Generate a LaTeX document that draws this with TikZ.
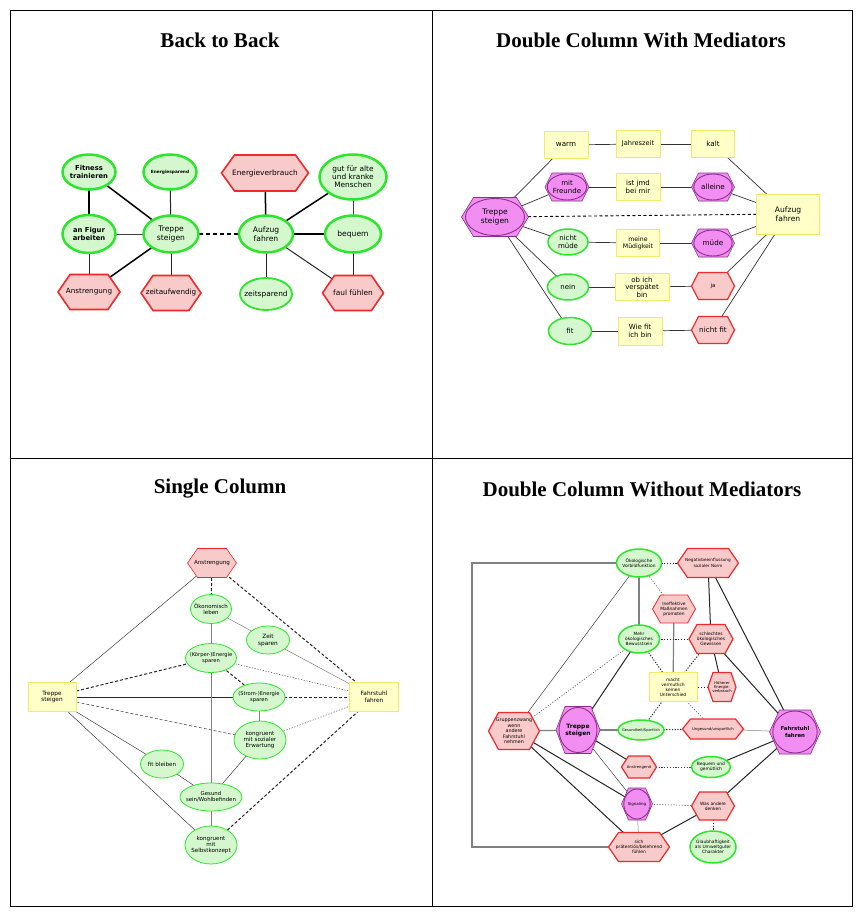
\documentclass[tikz,border=0pt]{standalone}
\usepackage{fontspec}
\setmainfont{DejaVu Sans}
\newfontfamily\titlefont{Liberation Serif}
\usetikzlibrary{backgrounds}
\definecolor{gB}{HTML}{2EE52E}
\definecolor{gF}{HTML}{D4F7CE}
\definecolor{rB}{HTML}{EE2A2A}
\definecolor{rF}{HTML}{F9CACA}
\definecolor{mF}{HTML}{F28EF2}
\definecolor{mB}{HTML}{8E2E8E}
\definecolor{yB}{HTML}{F2EA6A}
\definecolor{yF}{HTML}{FFFFC8}
\newcommand\fsz[2]{\fontsize{#1}{#2}\selectfont}
\tikzset{
  txt/.style={inner sep=0pt, align=center, text=black},
  sz/.style 2 args={minimum width=#1pt, minimum height=#2pt},
  gsh/.style={draw=gB, fill=gF, line width=1.5pt},
  rsh/.style={draw=rB, fill=rF, line width=1.2pt, line join=miter},
  msh/.style={draw=mB, fill=mF, line width=0.6pt, line join=miter},
  mel/.style={draw=mB, line width=0.9pt},
  ynode/.style={txt, rectangle, draw=yB, fill=yF, line width=1pt},
  ttl/.style={font=\titlefont\fsz{21}{24}\bfseries, inner sep=0pt},
  ethk/.style={line width=1.5pt, black},
  emed/.style={line width=1pt, black!85},
  ethn/.style={line width=0.5pt, black!75},
  etr/.style={line width=0.7pt, black!80},
  egry/.style={line width=1.2pt, black!50},
  edsh/.style={dash pattern=on 3pt off 2pt},
  edot/.style={dash pattern=on 1.2pt off 1.6pt},
}
% ellipse: name, x, y, w, h, shape style, font, text
\newcommand\elln[8]{%
  \path[#6] (#2,#3) ellipse [x radius={#4*0.5pt}, y radius={#5*0.5pt}];
  \node[txt, font=#7] (#1) at (#2,#3) {#8};}
% hexagon: name, x, y, w, h, point depth, shape style, font, text
\newcommand\hexn[9]{%
  \path[#7] (#2-#4/2,#3) -- (#2-#4/2+#6,#3-#5/2) -- (#2+#4/2-#6,#3-#5/2)
    -- (#2+#4/2,#3) -- (#2+#4/2-#6,#3+#5/2) -- (#2-#4/2+#6,#3+#5/2) -- cycle;
  \node[txt, font=#8] (#1) at (#2,#3) {#9};}
% magenta hexagon with ellipse: name, x, y, w, h, point depth, font, text
\newcommand\magn[8]{%
  \path[msh] (#2-#4/2,#3) -- (#2-#4/2+#6,#3-#5/2) -- (#2+#4/2-#6,#3-#5/2)
    -- (#2+#4/2,#3) -- (#2+#4/2-#6,#3+#5/2) -- (#2-#4/2+#6,#3+#5/2) -- cycle;
  \path[mel] (#2,#3) ellipse [x radius={(#4/2-#6/3)*1pt}, y radius={(#5/2-1)*1pt}];
  \node[txt, font=#7] (#1) at (#2,#3) {#8};}
\newcommand\ed[3]{\draw[#1] (#2.center) -- (#3.center);}

\begin{document}
\begin{tikzpicture}[x=1pt,y=-1pt]
\useasboundingbox (0,0) rectangle (863,919);
\begin{scope}[on background layer]
\fill[white] (0,0) rectangle (863,919);
\end{scope}
% table frame
\draw[line width=0.8pt] (10,10) rectangle (852,906);
\draw[line width=0.8pt] (432,10) -- (432,906);
\draw[line width=0.8pt] (10,458) -- (852,458);
% titles
\node[ttl] (t1) at (220,40) {Back to Back};
\node[ttl] (t2) at (641,40) {Double Column With Mediators};
\node[ttl] (t3) at (220,489) {Single Column};
\node[ttl] (t4) at (642,489) {Double Column Without Mediators};

% ---------------- Back to Back ----------------
\elln{fitn}{89}{172}{53}{35}{gsh, line width=2.5pt}{\fsz{6.8}{8}\bfseries}{Fitness\\trainieren}
\elln{enrg}{170}{172}{53}{35}{gsh, line width=2.5pt}{\fsz{4.3}{5}\bfseries}{Energiesparend}
\hexn{ever}{265}{173}{87}{36}{13}{rsh, line width=1.6pt}{\fsz{7.4}{8.6}}{Energieverbrauch}
\elln{gut}{353}{177}{67}{45}{gsh, line width=2.5pt}{\fsz{7.4}{8}}{gut für alte\\und kranke\\Menschen}
\elln{figur}{89}{234}{53}{38}{gsh, line width=2.5pt}{\fsz{6.8}{8}\bfseries}{an Figur\\arbeiten}
\elln{tr1}{171}{234}{55}{37}{gsh, line width=2.5pt}{\fsz{7.6}{8.8}}{Treppe\\steigen}
\elln{auf1}{266}{234}{54}{37}{gsh, line width=2.5pt}{\fsz{7.6}{8.8}}{Aufzug\\fahren}
\elln{beq}{353}{234}{56}{37}{gsh, line width=2.5pt}{\fsz{7.6}{8.8}}{bequem}
\hexn{anst1}{89}{292}{62}{35}{12}{rsh, line width=1.6pt}{\fsz{7.2}{8.6}}{Anstrengung}
\hexn{zaw}{171}{293}{60}{35}{12}{rsh, line width=1.6pt}{\fsz{7.2}{8.6}}{zeitaufwendig}
\elln{zsp}{266}{294}{52}{32}{gsh, line width=1.8pt}{\fsz{7.4}{8.6}}{zeitsparend}
\hexn{faul}{353}{293}{61}{35}{12}{rsh, line width=1.6pt}{\fsz{7.4}{8.6}}{faul fühlen}

% ---------------- Double Column With Mediators ----------------
\node[ynode, sz={44}{27}, font=\fsz{7.2}{8}] (warm) at (566,145) {warm};
\node[ynode, sz={44}{27}, font=\fsz{6.6}{8}] (jahr) at (638,144) {Jahreszeit};
\node[ynode, sz={43}{27}, font=\fsz{7.2}{8}] (kalt) at (713,144) {kalt};
\magn{mitf}{567}{187}{44}{28}{7}{\fsz{7}{7.8}}{mit\\Freunde}
\node[ynode, sz={44}{27}, font=\fsz{7}{7.8}] (jmd) at (638,187) {ist jmd\\bei mir};
\magn{allein}{713}{187}{43}{28}{7}{\fsz{7.2}{8}}{alleine}
\magn{tr2}{495}{217}{67}{39}{12}{\fsz{7.6}{8.6}}{Treppe\\steigen}
\node[ynode, sz={63}{40}, font=\fsz{7.6}{8.6}] (auf2) at (788,214) {Aufzug\\fahren};
\elln{nmued}{568}{242}{40}{26}{gsh}{\fsz{7}{7.8}}{nicht\\müde}
\node[ynode, sz={43}{27}, font=\fsz{6.2}{7.2}] (meine) at (638,243) {meine\\Müdigkeit};
\magn{muede}{713}{243}{43}{28}{7}{\fsz{7.2}{8}}{müde}
\elln{nein}{568}{287}{41}{26}{gsh}{\fsz{7}{8}}{nein}
\node[ynode, sz={54}{27}, font=\fsz{7}{7.4}] (obich) at (642,287) {ob ich\\verspätet\\bin};
\hexn{ja}{713}{286}{43}{27}{7}{rsh}{\fsz{5.5}{6}}{ja}
\elln{fitz}{570}{331}{43}{27}{gsh}{\fsz{7}{8}}{fit}
\node[ynode, sz={44}{28}, font=\fsz{7}{7.8}] (wiefit) at (640,331) {Wie fit\\ich bin};
\hexn{nfit}{713}{330}{43}{27}{7}{rsh}{\fsz{7.2}{8}}{nicht fit}

% ---------------- Single Column ----------------
\hexn{anst3}{212}{563}{49}{29}{10}{rsh, line width=0.6pt}{\fsz{5.6}{6.5}}{Anstrengung}
\elln{oeko}{211}{609}{41}{29}{gsh, line width=0.8pt}{\fsz{5.5}{6.4}}{Ökonomisch\\leben}
\elln{zeit}{268}{640}{43}{28}{gsh, line width=0.8pt}{\fsz{5.8}{6.8}}{Zeit\\sparen}
\elln{koerp}{211}{658}{51}{29}{gsh, line width=0.8pt}{\fsz{5.2}{6}}{(Körper-)Energie\\sparen}
\node[ynode, sz={48}{29}, line width=0.7pt, font=\fsz{5.8}{6.8}] (tr3) at (52,697) {Treppe\\steigen};
\node[ynode, sz={49}{29}, line width=0.7pt, font=\fsz{5.8}{6.8}] (fahr3) at (374,697) {Fahrstuhl\\fahren};
\elln{strom}{259}{697}{52}{28}{gsh, line width=0.8pt}{\fsz{5.2}{6}}{(Strom-)Energie\\sparen}
\elln{kson}{260}{740}{52}{38}{gsh, line width=0.8pt}{\fsz{5.6}{6.2}}{kongruent\\mit sozialer\\Erwartung}
\elln{fitb}{162}{764}{43}{28}{gsh, line width=0.8pt}{\fsz{5.6}{6.4}}{fit bleiben}
\elln{ges}{211}{797}{62}{28}{gsh, line width=0.8pt}{\fsz{5.4}{6}}{Gesund\\sein/Wohlbefinden}
\elln{kselb}{211}{845}{52}{38}{gsh, line width=0.8pt}{\fsz{5.6}{6.2}}{kongruent\\mit\\Selbstkonzept}

% ---------------- Double Column Without Mediators ----------------
\coordinate (lpa) at (472,563);
\coordinate (lpb) at (472,847);
\elln{oekv}{639}{563}{45}{28}{gsh}{\fsz{4.4}{5.2}}{Ökologische\\Vorbildfunktion}
\hexn{neg}{708}{563}{61}{29}{10}{rsh}{\fsz{4.2}{5.2}}{Negativbeeinflussung\\sozialer Norm}
\hexn{ineff}{674}{609}{43}{28}{8}{rsh, line width=0.8pt}{\fsz{4.4}{5}}{Ineffektive\\Maßnahmen\\promoten}
\elln{mehr}{639}{639}{41}{28}{gsh}{\fsz{4.3}{4.9}}{Mehr\\ökologisches\\Bewusstsein}
\hexn{schl}{711}{639}{44}{29}{8}{rsh}{\fsz{4.4}{5}}{schlechtes\\ökologisches\\Gewissen}
\node[ynode, sz={48}{29}, line width=0.6pt, font=\fsz{4.4}{5}] (macht) at (673,687) {macht\\vermutlich\\keinen\\Unterschied};
\hexn{hoeh}{722}{687}{28}{29}{5}{rsh}{\fsz{3.8}{4.4}}{Höherer\\Energie-\\verbrauch}
\hexn{grup}{514}{731}{51}{37}{10}{rsh}{\fsz{4.8}{5.6}}{Gruppenzwang\\wenn\\andere\\Fahrstuhl\\nehmen}
\magn{tr4}{578}{730}{44}{47}{9}{\fsz{6}{7}\bfseries}{Treppe\\steigen}
\elln{gesu}{641}{730}{46}{20}{gsh}{\fsz{3.6}{4.5}}{Gesundheit/Sportlich}
\hexn{unges}{713}{729}{61}{20}{8}{rsh}{\fsz{3.8}{4.5}}{Ungesund/unsportlich}
\magn{fahr4}{795}{732}{51}{44}{10}{\fsz{5.4}{6.4}\bfseries}{Fahrstuhl\\fahren}
\hexn{anstd}{639}{767}{35}{22}{7}{rsh}{\fsz{3.8}{4.5}}{Anstrengend}
\elln{bequ}{711}{767}{39}{21}{gsh}{\fsz{4.4}{5}}{Bequem und\\gemütlich}
\magn{sig}{637}{804}{31}{32}{7}{\fsz{4}{5}}{Signaling}
\hexn{was}{713}{806}{43}{28}{8}{rsh}{\fsz{4.4}{5.2}}{Was andere\\denken}
\hexn{praet}{639}{847}{61}{29}{10}{rsh}{\fsz{4.4}{5.2}}{sich\\prätentiös/belehrend\\fühlen}
\elln{glaub}{713}{847}{46}{32}{gsh}{\fsz{4.4}{5.2}}{Glaubhaftigkeit\\als Umweltguter\\Charakter}

% ---------------- connectors ----------------
\begin{scope}[on background layer]
% Back to Back
\ed{ethk}{fitn}{figur}
\ed{ethk}{fitn}{tr1}
\ed{emed}{enrg}{tr1}
\ed{ethn}{figur}{tr1}
\ed{emed}{figur}{anst1}
\ed{ethk}{tr1}{anst1}
\ed{emed}{tr1}{zaw}
\ed{ethk, dash pattern=on 4pt off 3pt}{tr1}{auf1}
\ed{ethk}{ever}{auf1}
\ed{ethk}{gut}{auf1}
\ed{ethn}{gut}{beq}
\ed{ethk}{auf1}{beq}
\ed{emed}{auf1}{zsp}
\ed{emed}{auf1}{faul}
\ed{emed}{beq}{faul}
% Double Column With Mediators
\ed{etr}{warm}{jahr}
\ed{etr}{jahr}{kalt}
\ed{etr}{mitf}{jmd}
\ed{etr}{jmd}{allein}
\ed{etr}{nmued}{meine}
\ed{etr}{meine}{muede}
\ed{etr}{nein}{obich}
\ed{etr}{obich}{ja}
\ed{etr}{fitz}{wiefit}
\ed{etr}{wiefit}{nfit}
\ed{etr}{tr2}{warm}
\ed{etr}{tr2}{mitf}
\ed{etr}{tr2}{nmued}
\ed{etr}{tr2}{nein}
\ed{etr}{tr2}{fitz}
\ed{etr}{auf2}{kalt}
\ed{etr}{auf2}{allein}
\ed{etr}{auf2}{muede}
\ed{etr}{auf2}{ja}
\ed{etr}{auf2}{nfit}
\ed{line width=0.9pt, black, dash pattern=on 3pt off 2.5pt}{tr2}{auf2}
% Single Column
\ed{ethn}{tr3}{anst3}
\ed{emed, edsh}{fahr3}{anst3}
\ed{emed, edsh}{anst3}{oeko}
\ed{ethn, black!50}{oeko}{zeit}
\ed{ethn, black!50}{oeko}{koerp}
\ed{ethn, black!50}{zeit}{fahr3}
\ed{emed, edsh}{tr3}{koerp}
\ed{emed, edsh}{koerp}{strom}
\ed{ethn, edot}{koerp}{fahr3}
\ed{emed}{tr3}{strom}
\ed{emed, edsh}{strom}{fahr3}
\ed{ethn}{strom}{kson}
\ed{ethn, edsh}{tr3}{kson}
\ed{ethn, edot}{fahr3}{kson}
\ed{ethn}{tr3}{fitb}
\ed{ethn}{tr3}{kselb}
\ed{ethn}{fitb}{ges}
\ed{ethn}{kson}{ges}
\ed{ethn, black!50}{koerp}{ges}
\ed{ethn, black!50}{ges}{kselb}
\ed{emed, edsh}{fahr3}{kselb}
% Double Column Without Mediators
\draw[egry] (oekv.center) -- (lpa) -- (lpb) -- (praet.center);
\ed{egry}{oekv}{mehr}
\ed{emed, edot}{oekv}{neg}
\ed{ethn, edot}{oekv}{ineff}
\ed{ethn}{oekv}{grup}
\ed{emed}{neg}{schl}
\ed{emed}{neg}{fahr4}
\ed{egry}{ineff}{macht}
\ed{emed, edot}{mehr}{schl}
\ed{emed, edot}{mehr}{macht}
\ed{emed}{mehr}{tr4}
\ed{ethn, edot}{mehr}{grup}
\ed{emed, edot}{schl}{macht}
\ed{emed}{schl}{hoeh}
\ed{emed}{schl}{fahr4}
\ed{emed, edot}{macht}{hoeh}
\ed{emed, edot}{macht}{gesu}
\ed{ethn, edot}{macht}{unges}
\ed{egry}{grup}{tr4}
\ed{emed}{grup}{sig}
\ed{emed}{grup}{praet}
\ed{egry}{tr4}{gesu}
\ed{emed}{tr4}{anstd}
\ed{ethn}{tr4}{sig}
\ed{emed, edot}{gesu}{unges}
\ed{ethn, black!50}{unges}{fahr4}
\ed{ethn, edot}{anstd}{bequ}
\ed{emed}{bequ}{fahr4}
\ed{ethn, edot}{sig}{was}
\ed{ethn, black!50}{sig}{praet}
\ed{emed}{was}{fahr4}
\ed{emed}{was}{praet}
\ed{emed, edot}{was}{glaub}
\end{scope}
\end{tikzpicture}
\end{document}
